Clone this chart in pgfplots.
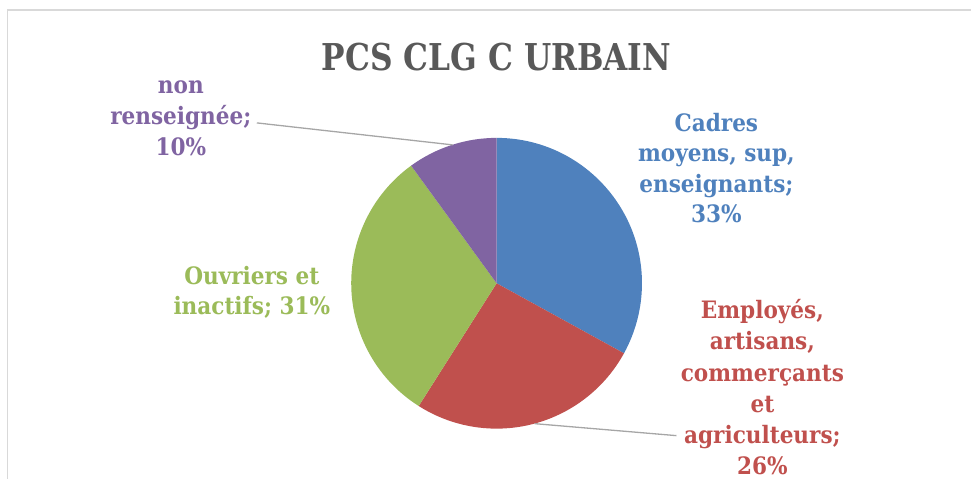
\documentclass[border=0pt]{standalone}
\usepackage{fontspec}
\setmainfont{DejaVu Serif Condensed}
\usepackage{graphicx}
\usepackage{pgfplots}
\pgfplotsset{compat=1.18}
\definecolor{cblue}{HTML}{4F81BD}
\definecolor{cred}{HTML}{C0504D}
\definecolor{cgreen}{HTML}{9BBB59}
\definecolor{cpurple}{HTML}{8064A2}
\definecolor{ctitle}{HTML}{595959}
\definecolor{cframe}{HTML}{D9D9D9}
\definecolor{cleader}{HTML}{A6A6A6}
\begin{document}
\begin{tikzpicture}
\begin{axis}[x=1pt,y=1pt,xmin=0,xmax=972,ymin=0,ymax=479,hide axis,clip=false]
\path (axis cs:0,0) rectangle (axis cs:972,479);
% frame
\draw[cframe,line width=1.6pt] (axis cs:7.5,0) -- (axis cs:7.5,469) -- (axis cs:972,469);
% pie: values 33, 26, 31, 10 (percent), clockwise from 12 o'clock
\def\cx{497}\def\cy{195.5}\def\rr{145.5pt}
\pgfmathsetmacro{\aA}{90}
\pgfmathsetmacro{\aB}{\aA-33*3.6}
\pgfmathsetmacro{\aC}{\aB-26*3.6}
\pgfmathsetmacro{\aD}{\aC-31*3.6}
\pgfmathsetmacro{\aE}{\aD-10*3.6}
\fill[cblue] (axis cs:\cx,\cy) -- ++(\aA:\rr) arc[start angle=\aA,end angle=\aB,radius=\rr] -- cycle;
\fill[cred] (axis cs:\cx,\cy) -- ++(\aB:\rr) arc[start angle=\aB,end angle=\aC,radius=\rr] -- cycle;
\fill[cgreen] (axis cs:\cx,\cy) -- ++(\aC:\rr) arc[start angle=\aC,end angle=\aD,radius=\rr] -- cycle;
\fill[cpurple] (axis cs:\cx,\cy) -- ++(\aD:\rr) arc[start angle=\aD,end angle=\aE,radius=\rr] -- cycle;
% leader lines
\draw[cleader,line width=1.3pt] (axis cs:257,356) -- (axis cs:453,334);
\draw[cleader,line width=1.3pt] (axis cs:535,55) -- (axis cs:677,43);
% title
\node[anchor=base,text=ctitle,font=\fontsize{37}{44}\selectfont\bfseries] at (axis cs:497,408) {\scalebox{0.94}[1]{PCS CLG C URBAIN}};
% labels (anchor = baseline of last line)
\node[anchor=base,text=cblue,align=center,font=\fontsize{24}{30.5}\selectfont\bfseries] at (axis cs:717,256) {Cadres\\moyens, sup,\\enseignants;\\33\%};
\node[anchor=base,text=cred,align=center,font=\fontsize{24}{31.2}\selectfont\bfseries] at (axis cs:763,4) {Employés,\\artisans,\\commerçants\\et\\agriculteurs;\\26\%};
\node[anchor=base,text=cgreen,align=center,font=\fontsize{24}{30}\selectfont\bfseries] at (axis cs:252,164) {Ouvriers et\\inactifs; 31\%};
\node[anchor=base,text=cpurple,align=center,font=\fontsize{24}{31}\selectfont\bfseries] at (axis cs:181,323) {non\\renseignée;\\10\%};
\end{axis}
\end{tikzpicture}
\end{document}
